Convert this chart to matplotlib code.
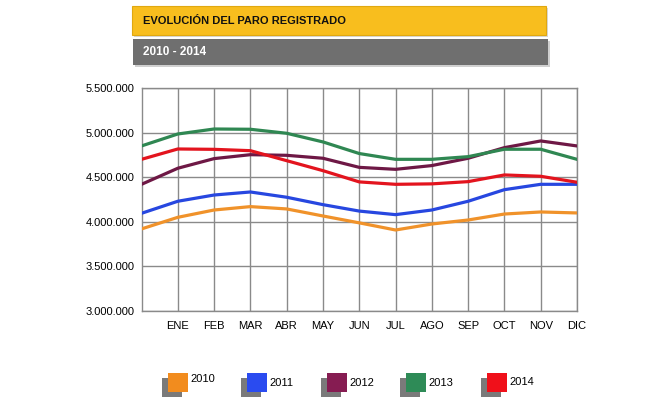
import matplotlib.pyplot as plt
from matplotlib.patches import Rectangle
from matplotlib.ticker import FuncFormatter

plt.rcParams['font.family'] = ['Liberation Sans', 'DejaVu Sans']

# x = 0 is the starting point before ENE (unlabelled)
months = ["", "ENE", "FEB", "MAR", "ABR", "MAY", "JUN", "JUL", "AGO", "SEP", "OCT", "NOV", "DIC"]
years = ["2010", "2011", "2012", "2013", "2014"]

paro_2010 = [3920000, 4050000, 4132000, 4170000, 4144000, 4065000, 3988000, 3908000, 3975000, 4020000, 4087000, 4110000, 4099000]
paro_2011 = [4095000, 4230000, 4300000, 4334000, 4275000, 4192000, 4120000, 4080000, 4132000, 4230000, 4360000, 4420000, 4420000]
paro_2012 = [4420000, 4600000, 4708000, 4752000, 4745000, 4712000, 4610000, 4588000, 4630000, 4712000, 4831000, 4906000, 4850000]
paro_2013 = [4850000, 4984000, 5040000, 5037000, 4992000, 4895000, 4765000, 4700000, 4700000, 4730000, 4813000, 4813000, 4700000]
paro_2014 = [4700000, 4816000, 4812000, 4797000, 4685000, 4573000, 4447000, 4420000, 4425000, 4450000, 4525000, 4510000, 4443000]

series = [paro_2010, paro_2011, paro_2012, paro_2013, paro_2014]
colors = ["#F0922A", "#2747E0", "#6E1845", "#2F8752", "#E3141E"]
legend_colors = ["#F28C1E", "#2A4BF0", "#861C52", "#2E8B57", "#F0101A"]

fig = plt.figure(figsize=(6.7, 3.98), dpi=100)
ax = fig.add_axes([0.2112, 0.2186, 0.6500, 0.5604])

x = list(range(len(months)))
for vals, c in zip(series, colors):
    ax.plot(x, vals, color=c, linewidth=2.3, solid_joinstyle='round', zorder=3)

ax.set_xlim(0, 12)
ax.set_ylim(3000000, 5500000)
ax.set_xticks(x[1:])
ax.set_xticklabels(months[1:], fontsize=8)
ax.set_yticks([3000000, 3500000, 4000000, 4500000, 5000000, 5500000])
ax.yaxis.set_major_formatter(FuncFormatter(lambda v, p: f"{int(v):,}".replace(",", ".")))
ax.tick_params(axis='y', labelsize=8, length=0, pad=5)
ax.tick_params(axis='x', length=0, pad=7)
ax.grid(True, color="#8a8a8a", linewidth=1)
ax.set_axisbelow(True)
for s in ax.spines.values():
    s.set_color("#8a8a8a")
    s.set_linewidth(1)

W, H = 670, 398

def box(x0, y0, w, h, **kw):
    # pixel coords measured from top-left
    fig.patches.append(Rectangle((x0 / W, 1 - (y0 + h) / H), w / W, h / H,
                                 transform=fig.transFigure, figure=fig, **kw))

# title boxes
box(134, 8, 414, 29, facecolor="#d8d8d8", edgecolor="none")
box(132, 6, 414, 29, facecolor="#F8BE1E", edgecolor="#e0a810", linewidth=0.8)
box(135, 41, 415, 26, facecolor="#d0d0d0", edgecolor="none")
box(133, 39, 415, 26, facecolor="#6F6F6F", edgecolor="none")
fig.text(143 / W, 1 - 21 / H, "EVOLUCIÓN DEL PARO REGISTRADO", fontsize=8,
         fontweight='bold', color="#111111", va='center', ha='left')
fig.text(143 / W, 1 - 52 / H, "2010 - 2014", fontsize=8.5,
         fontweight='bold', color="white", va='center', ha='left')

# legend
leg_x = [168, 247, 327, 406, 487]
leg_ty = [379, 383, 383, 383, 382]
for lx, ty, yr, c in zip(leg_x, leg_ty, years, legend_colors):
    box(lx - 6, 378, 20, 19, facecolor="#7a7a7a", edgecolor="none")
    box(lx, 373, 20, 19, facecolor=c, edgecolor="none")
    fig.text((lx + 22) / W, 1 - ty / H, yr, fontsize=8, va='center', ha='left')

fig.savefig("out.png", dpi=100)
